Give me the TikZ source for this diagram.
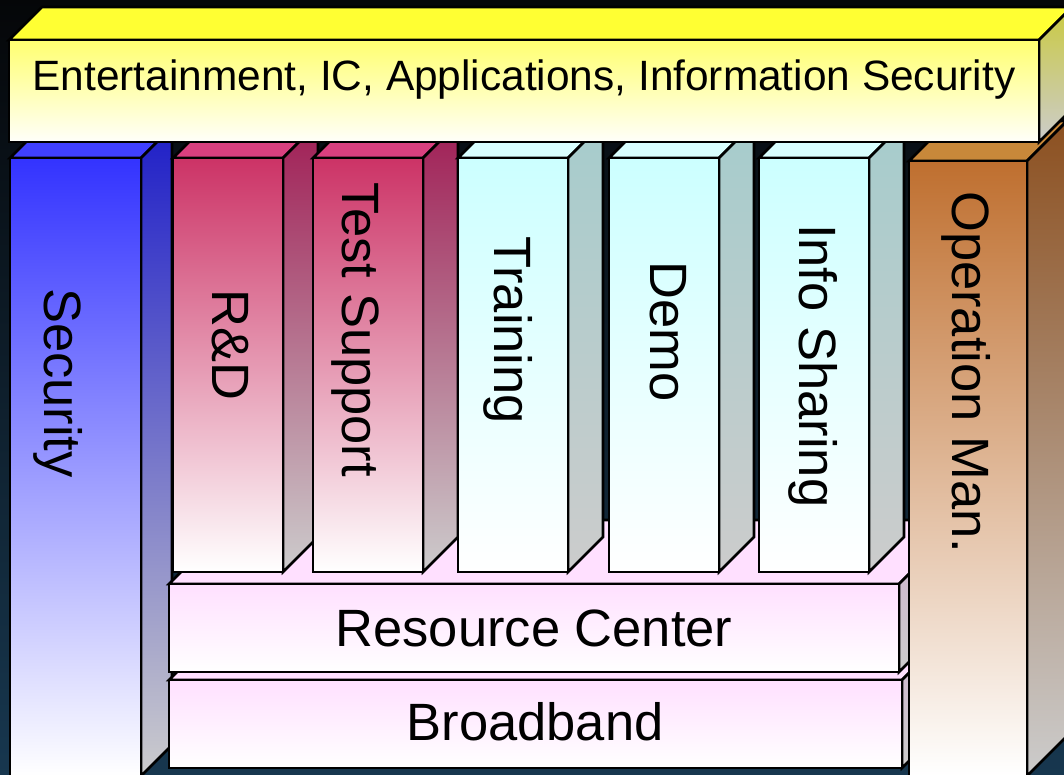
\documentclass[tikz,border=0pt]{standalone}
\usepackage{fontspec}
\setmainfont{Liberation Sans}
\definecolor{bgT}{HTML}{050608}
\definecolor{bgB}{HTML}{17374F}
\definecolor{yelTP}{HTML}{FFFF33}
\definecolor{yelFT}{HTML}{FFFF70}
\definecolor{yelFB}{HTML}{FFFFFA}
\definecolor{yelST}{HTML}{CACA40}
\definecolor{yelSB}{HTML}{CCCCCC}
\definecolor{secTP}{HTML}{4040FF}
\definecolor{secFT}{HTML}{3333FF}
\definecolor{secFB}{HTML}{FFFFFF}
\definecolor{secST}{HTML}{1F1FC8}
\definecolor{secSB}{HTML}{CCCCCC}
\definecolor{redTP}{HTML}{D9407F}
\definecolor{redFT}{HTML}{CC3366}
\definecolor{redFB}{HTML}{FFFFFF}
\definecolor{redST}{HTML}{A01E55}
\definecolor{redSB}{HTML}{CCCCCC}
\definecolor{cyaTP}{HTML}{D9FFFF}
\definecolor{cyaFT}{HTML}{CCFFFF}
\definecolor{cyaFB}{HTML}{FFFFFF}
\definecolor{cyaST}{HTML}{A6CCCC}
\definecolor{cyaSB}{HTML}{CCCCCC}
\definecolor{opTP}{HTML}{C8883A}
\definecolor{opFT}{HTML}{BF6F2F}
\definecolor{opFB}{HTML}{FFFFFF}
\definecolor{opST}{HTML}{8C5020}
\definecolor{opSB}{HTML}{CCCCCC}
\definecolor{pnkTP}{HTML}{FFE0FF}
\definecolor{pnkFT}{HTML}{FFE0FF}
\definecolor{pnkFB}{HTML}{FFFFFF}
\definecolor{pnkST}{HTML}{D0B0D0}
\definecolor{pnkSB}{HTML}{CCCCCC}
\tikzset{
  edge/.style={draw=black, line width=2.6pt},
  lab/.style={font=\fontsize{52.5}{60}\selectfont, inner sep=0pt, text=black},
  ttl/.style={font=\fontsize{42.4}{50}\selectfont, inner sep=0pt, text=black}
}
% #1 x1, #2 y1 (top), #3 x2, #4 y2 (bottom), #5 depth, #6 colour prefix
\newcommand\drawcuboid[6]{%
  \draw[edge, fill=#6TP] (#1,#2) -- ({#1+#5},{#2-#5}) -- ({#3+#5},{#2-#5}) -- (#3,#2) -- cycle;
  \draw[edge, top color=#6ST, bottom color=#6SB] (#3,#2) -- ({#3+#5},{#2-#5}) -- ({#3+#5},{#4-#5}) -- (#3,#4) -- cycle;
  \draw[edge, top color=#6FT, bottom color=#6FB] (#1,#2) rectangle (#3,#4);
}
\begin{document}
\begin{tikzpicture}[x=1pt, y=-1pt]
  \useasboundingbox (0,0) rectangle (1064,774);
  \clip (0,0) rectangle (1064,774);
  \shade[top color=bgT, bottom color=bgB] (-2,-2) rectangle (1066,776);
  % outer columns and base layers
  \drawcuboid{10}{158}{141}{776}{31}{sec}
  \drawcuboid{169}{680}{902}{768}{64}{pnk}
  \drawcuboid{169}{584}{899}{672}{64}{pnk}
  \drawcuboid{909}{161}{1027}{776}{40}{op}
  % inner columns
  \drawcuboid{173}{158}{283}{572}{35}{red}
  \drawcuboid{313}{158}{423}{572}{35}{red}
  \drawcuboid{458}{158}{568}{572}{35}{cya}
  \drawcuboid{609}{158}{719}{572}{35}{cya}
  \drawcuboid{759}{158}{869}{572}{35}{cya}
  % top layer
  \drawcuboid{9}{40}{1039}{142}{33}{yel}
  % labels
  \node (title) [ttl, anchor=base] at (524,90) {Entertainment, IC, Applications, Information Security};
  \node (sec) [lab, rotate=-90, anchor=base west] at (44,288) {Security};
  \node (rnd) [lab, rotate=-90, anchor=base west] at (212,289) {R\&D};
  \node (tst) [lab, rotate=-90, anchor=base west] at (342,182) {Test Support};
  \node (trn) [lab, rotate=-90, anchor=base west] at (494,236) {Training};
  \node (dem) [lab, rotate=-90, anchor=base west] at (650,261) {Demo};
  \node (inf) [lab, rotate=-90, anchor=base west] at (799,224) {Info Sharing};
  \node (opm) [lab, rotate=-90, anchor=base west] at (952,191) {Operation Man.};
  \node (res) [lab, anchor=base] at (534,646) {Resource Center};
  \node (brd) [lab, anchor=base] at (535,740) {Broadband};
\end{tikzpicture}
\end{document}
